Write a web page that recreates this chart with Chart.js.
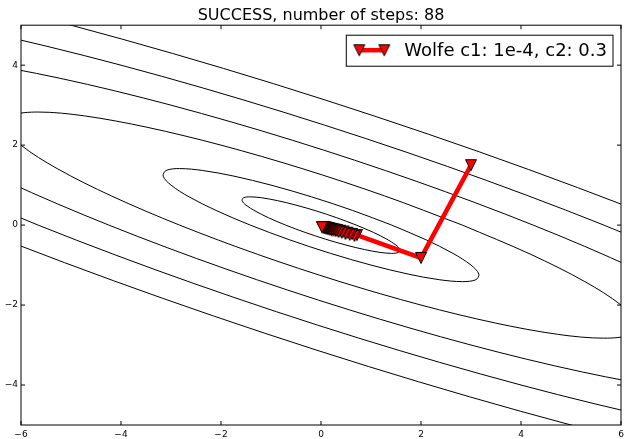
<!DOCTYPE html>
<html>
<head>
<meta charset="utf-8">
<title>Wolfe line search contour</title>
<script src="https://cdn.jsdelivr.net/npm/chart.js@4.4.1/dist/chart.umd.min.js"></script>
<style>
  html, body { margin: 0; padding: 0; background: #fff; }
  #wrap { width: 625px; height: 439px; }
</style>
</head>
<body>
<div id="wrap"><canvas id="chart" width="625" height="439"></canvas></div>
<script>
// ---------- data ----------
const titleText = "SUCCESS, number of steps: 88";
const seriesLabel = "Wolfe c1: 1e-4, c2: 0.3";
const xTicks = [-6, -4, -2, 0, 2, 4, 6];
const yTicks = [-4, -2, 0, 2, 4];

// optimisation path (x, y of each iterate)
const pathX = [3, 2, 0.72, 0.67, 0.62, 0.575, 0.53, 0.49, 0.45, 0.415, 0.38, 0.35, 0.32, 0.295, 0.27, 0.25,
  0.23, 0.21, 0.195, 0.18, 0.165, 0.15, 0.14, 0.13, 0.12, 0.11, 0.10, 0.09, 0.08, 0.07, 0.06, 0.05,
  0.04, 0.03, 0.02];
const pathY = [1.5, -0.82, -0.25, -0.27, -0.22, -0.24, -0.19, -0.22, -0.16, -0.19, -0.14, -0.17, -0.12, -0.15, -0.11, -0.135,
  -0.10, -0.12, -0.09, -0.11, -0.08, -0.10, -0.075, -0.09, -0.07, -0.085, -0.06, -0.08, -0.06, -0.07, -0.055, -0.06,
  -0.05, -0.055, -0.05];

// contour lines, as [x, y] points along each curve
const contour1 = [[0.707, 0], [0.317, 0.183], [-0.095, 0.354], [-0.5, 0.5], [-0.871, 0.612], [-1.183, 0.683],
  [-1.414, 0.707], [-1.549, 0.683], [-1.578, 0.612], [-1.5, 0.5], [-1.319, 0.354], [-1.049, 0.183],
  [-0.707, 0], [-0.317, -0.183], [0.095, -0.354], [0.5, -0.5], [0.871, -0.612], [1.183, -0.683],
  [1.414, -0.707], [1.549, -0.683], [1.578, -0.612], [1.5, -0.5], [1.319, -0.354], [1.049, -0.183], [0.707, 0]];
const contour2 = [[1.414, 0], [0.634, 0.366], [-0.19, 0.707], [-1.0, 1.0], [-1.742, 1.225], [-2.366, 1.366],
  [-2.828, 1.414], [-3.098, 1.366], [-3.157, 1.225], [-3.0, 1.0], [-2.639, 0.707], [-2.098, 0.366],
  [-1.414, 0], [-0.634, -0.366], [0.19, -0.707], [1.0, -1.0], [1.742, -1.225], [2.366, -1.366],
  [2.828, -1.414], [3.098, -1.366], [3.157, -1.225], [3.0, -1.0], [2.639, -0.707], [2.098, -0.366], [1.414, 0]];
const contour3 = [[2.828, 0], [1.268, 0.732], [-0.379, 1.414], [-2.0, 2.0], [-3.485, 2.449], [-4.732, 2.732],
  [-5.657, 2.828], [-6.196, 2.732], [-6.313, 2.449], [-6.0, 2.0], [-5.278, 1.414], [-4.196, 0.732],
  [-2.828, 0], [-1.268, -0.732], [0.379, -1.414], [2.0, -2.0], [3.485, -2.449], [4.732, -2.732],
  [5.657, -2.828], [6.196, -2.732], [6.313, -2.449], [6.0, -2.0], [5.278, -1.414], [4.196, -0.732], [2.828, 0]];
const contour4a = [[-8.485, 4.243], [-7.098, 4.098], [-5.227, 3.674], [-3.0, 3.0], [-0.569, 2.121],
  [1.902, 1.098], [4.243, 0], [6.294, -1.098], [7.917, -2.121]];
const contour4b = [[8.485, -4.243], [7.098, -4.098], [5.227, -3.674], [3.0, -3.0], [0.569, -2.121],
  [-1.902, -1.098], [-4.243, 0], [-6.294, 1.098], [-7.917, 2.121]];
const contour5a = [[-9.464, 5.464], [-6.969, 4.899], [-4.0, 4.0], [-0.758, 2.828], [2.536, 1.464],
  [5.657, 0], [8.392, -1.464]];
const contour5b = [[9.464, -5.464], [6.969, -4.899], [4.0, -4.0], [0.758, -2.828], [-2.536, -1.464],
  [-5.657, 0], [-8.392, 1.464]];
const contour6a = [[-8.711, 6.124], [-5.0, 5.0], [-0.947, 3.536], [3.17, 1.83], [7.071, 0], [10.49, -1.83]];
const contour6b = [[8.711, -6.124], [5.0, -5.0], [0.947, -3.536], [-3.17, -1.83], [-7.071, 0], [-10.49, 1.83]];

const contours = [contour1, contour2, contour3, contour4a, contour4b, contour5a, contour5b, contour6a, contour6b];

// ---------- helpers ----------
const FONT = '"DejaVu Sans", "Liberation Sans", sans-serif';
const fmt = v => String(v).replace('-', '\u2212');

// down-pointing triangle marker, centred on its bounding box like matplotlib's 'v'
function makeMarker(size) {
  const c = document.createElement('canvas');
  c.width = 14; c.height = 14;
  const g = c.getContext('2d');
  const m = 7, h = size / 2;
  g.beginPath();
  g.moveTo(m - h, m - h);
  g.lineTo(m + h, m - h);
  g.lineTo(m, m + h);
  g.closePath();
  g.fillStyle = '#ff0000';
  g.fill();
  g.strokeStyle = '#000';
  g.lineWidth = 1;
  g.stroke();
  return c;
}
const marker = makeMarker(11);

// frame with inward ticks on all four sides (classic matplotlib look)
const frameTicks = {
  id: 'frameTicks',
  afterDatasetsDraw(chart) {
    const { ctx, chartArea: a, scales } = chart;
    const len = 4;
    ctx.save();
    ctx.strokeStyle = '#000';
    ctx.lineWidth = 1;
    ctx.beginPath();
    xTicks.forEach(v => {
      const px = scales.x.getPixelForValue(v);
      ctx.moveTo(px, a.bottom); ctx.lineTo(px, a.bottom - len);
      ctx.moveTo(px, a.top); ctx.lineTo(px, a.top + len);
    });
    yTicks.forEach(v => {
      const py = scales.y.getPixelForValue(v);
      ctx.moveTo(a.left, py); ctx.lineTo(a.left + len, py);
      ctx.moveTo(a.right, py); ctx.lineTo(a.right - len, py);
    });
    ctx.stroke();
    ctx.strokeRect(a.left, a.top, a.right - a.left, a.bottom - a.top);
    ctx.restore();
  }
};

// boxed legend in the upper right: line with two markers, then the label
const legendBox = {
  id: 'legendBox',
  afterDraw(chart) {
    const { ctx, chartArea: a } = chart;
    const ds = chart.data.datasets[0];
    ctx.save();
    ctx.font = '18px ' + FONT;
    const w = ctx.measureText(ds.label).width;
    const right = a.right - 8, top = a.top + 10, h = 31;
    const left = right - (58 + w + 6);
    ctx.fillStyle = '#fff';
    ctx.fillRect(left, top, right - left, h);
    ctx.strokeStyle = '#000';
    ctx.lineWidth = 1;
    ctx.strokeRect(left, top, right - left, h);

    const cy = top + 15, x1 = left + 13, x2 = left + 38;
    ctx.strokeStyle = ds.borderColor;
    ctx.lineWidth = ds.borderWidth;
    ctx.beginPath();
    ctx.moveTo(x1, cy); ctx.lineTo(x2, cy);
    ctx.stroke();
    [x1, x2].forEach(cx => ctx.drawImage(marker, cx - 7, cy - 7));

    ctx.fillStyle = '#000';
    ctx.textBaseline = 'alphabetic';
    ctx.fillText(ds.label, left + 58, top + 21);
    ctx.restore();
  }
};

// ---------- chart ----------
const datasets = [{
  label: seriesLabel,
  data: pathX.map((x, i) => ({ x, y: pathY[i] })),
  showLine: true,
  borderColor: '#ff0000',
  borderWidth: 4.5,
  tension: 0,
  pointStyle: marker,
  pointRadius: 6,
  order: 0
}];

contours.forEach(pts => {
  datasets.push({
    label: '',
    data: pts.map(([x, y]) => ({ x, y })),
    showLine: true,
    borderColor: '#000',
    borderWidth: 1,
    pointRadius: 0,
    tension: 0.33,
    clip: 0,
    order: 1
  });
});

new Chart(document.getElementById('chart'), {
  type: 'scatter',
  data: { datasets },
  options: {
    responsive: false,
    animation: false,
    devicePixelRatio: 1,
    events: [],
    layout: { autoPadding: false, padding: { left: 0, right: 4, top: 0, bottom: 0 } },
    elements: { line: { capBezierPoints: false } },
    scales: {
      x: {
        type: 'linear',
        min: -6, max: 6,
        afterBuildTicks: s => { s.ticks = xTicks.map(v => ({ value: v })); },
        afterFit: s => { s.height = 14; },
        grid: { display: false, drawTicks: true, tickLength: 4 },
        border: { display: false },
        ticks: { padding: 0, color: '#000', font: { family: FONT, size: 9 }, maxRotation: 0, autoSkip: false, callback: v => fmt(v) }
      },
      y: {
        type: 'linear',
        min: -5, max: 5,
        afterBuildTicks: s => { s.ticks = yTicks.map(v => ({ value: v })); },
        afterFit: s => { s.width = 21; },
        grid: { display: false, drawTicks: false },
        border: { display: false },
        ticks: { padding: 3, color: '#000', font: { family: FONT, size: 9 }, autoSkip: false, callback: v => fmt(v) }
      }
    },
    plugins: {
      legend: { display: false },
      tooltip: { enabled: false },
      title: {
        display: true,
        fullSize: false,
        text: titleText,
        color: '#000',
        font: { family: FONT, size: 16, weight: 'normal' },
        padding: { top: 6, bottom: 0 }
      }
    }
  },
  plugins: [frameTicks, legendBox]
});
</script>
</body>
</html>
